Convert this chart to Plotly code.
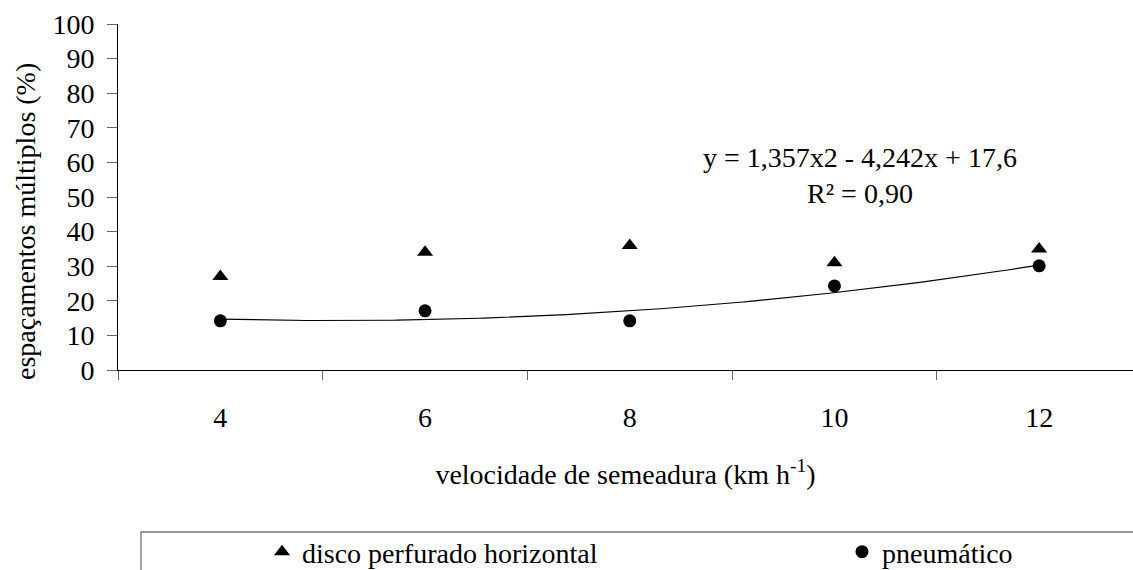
import numpy as np
import plotly.graph_objects as go

# ---- data ----
categories = ["4", "6", "8", "10", "12"]
disco = [27, 34, 36, 31, 35]
pneumatico = [14.2, 17.1, 14.2, 24.3, 30.1]
trend_coef = [1.357, -4.242, 17.6]   # y = a x^2 + b x + c  (x = category index 1..5)
eq_text = "y = 1,357x2 - 4,242x + 17,6<br>R² = 0,90"
y_ticks = list(range(0, 101, 10))

W, H = 1133, 570
L, R, T, B = 118, 0, 24, 200
pw, ph = W - L - R, H - T - B

def px(xp):
    return (xp - L) / pw

def py(yp):
    return (H - B - yp) / ph

FONT = "Liberation Serif, Times New Roman, serif"
FS = 28

xi = list(range(1, len(categories) + 1))
xt = np.linspace(1, len(categories), 200)
yt = np.polyval(trend_coef, xt)

fig = go.Figure()
fig.add_trace(go.Scatter(x=xi, y=disco, mode="markers", name="disco perfurado horizontal",
                         marker=dict(symbol="triangle-up", size=14, color="black"),
                         legend="legend"))
fig.add_trace(go.Scatter(x=xi, y=pneumatico, mode="markers", name="pneumático",
                         marker=dict(symbol="circle", size=13, color="black"),
                         legend="legend2"))
fig.add_trace(go.Scatter(x=xt, y=yt, mode="lines", showlegend=False,
                         line=dict(color="black", width=1.1), hoverinfo="skip"))

leg_common = dict(orientation="h", yanchor="middle", xanchor="left",
                  font=dict(family=FONT, size=FS, color="black"),
                  bgcolor="rgba(0,0,0,0)", borderwidth=0, itemclick=False)

fig.update_layout(
    width=W, height=H,
    margin=dict(l=L, r=R, t=T, b=B, autoexpand=False),
    paper_bgcolor="white", plot_bgcolor="white",
    font=dict(family=FONT, size=FS, color="black"),
    xaxis=dict(range=[0.5, 0.5 + pw / 204.7], tickvals=xi, ticktext=categories,
               ticks="", showline=True, linecolor="black", linewidth=1,
               showgrid=False, zeroline=False, ticklabelstandoff=22,
               tickfont=dict(family=FONT, size=FS, color="black"),
               minor=dict(tick0=0.5, dtick=1, ticks="outside", ticklen=9,
                          tickcolor="#666", showgrid=False),
               title=dict(text="velocidade de semeadura (km h<sup>-1</sup>)",
                          font=dict(family=FONT, size=FS, color="black"), standoff=32)),
    yaxis=dict(range=[0, 100], tickvals=y_ticks, ticks="outside", ticklen=10,
               tickcolor="#666", showline=True, linecolor="black", linewidth=1,
               showgrid=False, zeroline=False, ticklabelstandoff=7,
               tickfont=dict(family=FONT, size=FS, color="black")),
    legend=dict(x=px(262), y=py(552), **leg_common),
    legend2=dict(x=px(842), y=py(552), **leg_common),
    showlegend=True,
)

fig.add_annotation(text="espaçamentos múltiplos (%)", xref="paper", yref="paper",
                   x=px(25), y=py(222), showarrow=False, textangle=-90,
                   font=dict(family=FONT, size=FS, color="black"),
                   xanchor="center", yanchor="middle")
fig.add_annotation(text=eq_text, xref="paper", yref="paper", x=px(860), y=py(175),
                   showarrow=False, align="center", xanchor="center", yanchor="middle",
                   font=dict(family=FONT, size=FS, color="black"))
fig.add_shape(type="rect", xref="paper", yref="paper", x0=px(141), x1=1.2,
              y0=py(700), y1=py(532), line=dict(color="#777", width=1.3))

fig.write_html("out.html")
